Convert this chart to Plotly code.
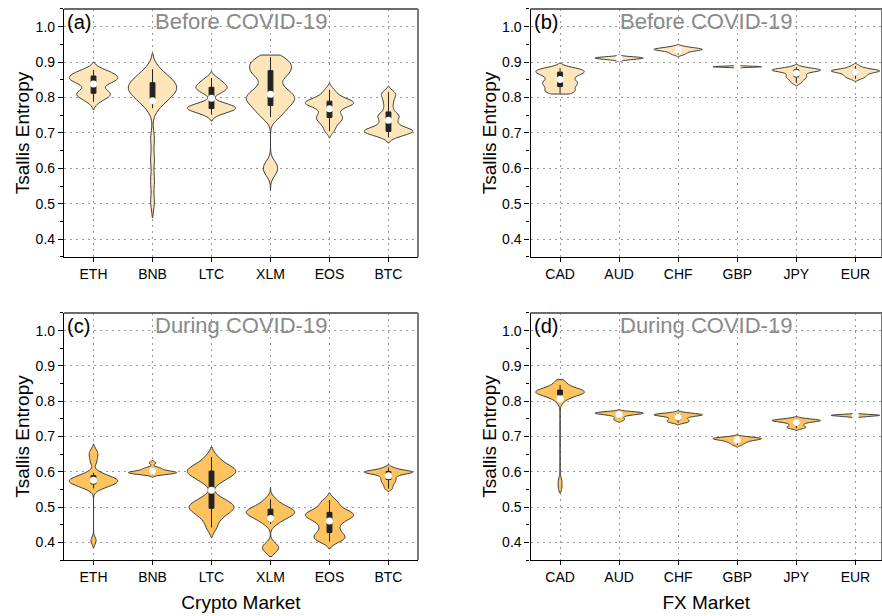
import numpy as np
import plotly.graph_objects as go

# ---------------- categories ----------------
crypto = ["ETH", "BNB", "LTC", "XLM", "EOS", "BTC"]
fx = ["CAD", "AUD", "CHF", "GBP", "JPY", "EUR"]

# ---------------- (a) crypto, before COVID-19 ----------------
eth_before = [0.788, 0.798, 0.803, 0.807, 0.810, 0.813, 0.817, 0.822, 0.838, 0.843, 0.846,
              0.849, 0.851, 0.854, 0.857, 0.860, 0.863, 0.866, 0.870, 0.874, 0.878]
bnb_before = [0.770, 0.782, 0.790, 0.797, 0.803, 0.808, 0.812, 0.816, 0.820, 0.823, 0.826,
              0.829, 0.832, 0.835, 0.838, 0.842, 0.846, 0.851, 0.857, 0.864, 0.872, 0.880,
              0.505, 0.565, 0.625, 0.685]
ltc_before = [0.752, 0.759, 0.763, 0.766, 0.768, 0.770, 0.772, 0.774, 0.777, 0.781, 0.787,
              0.812, 0.818, 0.823, 0.827, 0.831, 0.835, 0.840, 0.847, 0.855]
xlm_before = [0.858, 0.866, 0.874, 0.882, 0.890, 0.898, 0.906, 0.914, 0.835, 0.822, 0.812,
              0.806, 0.800, 0.794, 0.788, 0.780, 0.770, 0.758, 0.745, 0.590, 0.610]
eos_before = [0.705, 0.718, 0.728, 0.735, 0.740, 0.745, 0.750, 0.757, 0.766, 0.773, 0.777,
              0.780, 0.783, 0.785, 0.787, 0.789, 0.792, 0.796, 0.802, 0.810, 0.822]
btc_before = [0.688, 0.694, 0.698, 0.701, 0.703, 0.705, 0.707, 0.709, 0.712, 0.716, 0.722,
              0.730, 0.738, 0.745, 0.750, 0.756, 0.770, 0.785, 0.798, 0.808, 0.816]

# ---------------- (b) FX, before COVID-19 ----------------
cad_before = [0.812, 0.816, 0.821, 0.827, 0.833, 0.838, 0.842, 0.846, 0.852, 0.859, 0.864,
              0.868, 0.871, 0.874, 0.877, 0.880, 0.883]
aud_before = [0.906, 0.908, 0.909, 0.910, 0.911, 0.9115, 0.912, 0.9125, 0.913, 0.914, 0.915]
chf_before = [0.921, 0.925, 0.928, 0.931, 0.933, 0.934, 0.935, 0.936, 0.937, 0.938, 0.939,
              0.941, 0.944]
gbp_before = [0.8855, 0.886, 0.8865, 0.887, 0.887, 0.8875, 0.888, 0.8885]
jpy_before = [0.841, 0.848, 0.853, 0.857, 0.860, 0.864, 0.868, 0.872, 0.874, 0.876, 0.877,
              0.878, 0.879, 0.880, 0.882, 0.886]
eur_before = [0.853, 0.857, 0.860, 0.863, 0.866, 0.869, 0.871, 0.873, 0.874, 0.875, 0.876,
              0.877, 0.878, 0.880, 0.883, 0.889]

# ---------------- (c) crypto, during COVID-19 ----------------
eth_during = [0.553, 0.558, 0.562, 0.565, 0.568, 0.570, 0.572, 0.574, 0.576, 0.578, 0.580,
              0.583, 0.586, 0.590, 0.597, 0.628, 0.645, 0.658, 0.405]
bnb_during = [0.592, 0.594, 0.595, 0.596, 0.597, 0.598, 0.599, 0.600, 0.601, 0.603, 0.606,
              0.609, 0.612, 0.625]
ltc_during = [0.570, 0.582, 0.590, 0.596, 0.600, 0.604, 0.609, 0.615, 0.624, 0.642,
              0.442, 0.465, 0.478, 0.487, 0.494, 0.499, 0.503, 0.508, 0.515, 0.527]
xlm_during = [0.452, 0.462, 0.469, 0.474, 0.478, 0.481, 0.484, 0.487, 0.490, 0.493, 0.497,
              0.502, 0.510, 0.522, 0.376, 0.385, 0.393]
eos_during = [0.402, 0.408, 0.413, 0.418, 0.424, 0.432, 0.442, 0.452, 0.460, 0.466, 0.470,
              0.474, 0.477, 0.480, 0.483, 0.487, 0.492, 0.500, 0.510, 0.520]
btc_during = [0.552, 0.560, 0.567, 0.572, 0.577, 0.581, 0.586, 0.590, 0.593, 0.595, 0.597,
              0.598, 0.599, 0.600, 0.601, 0.602, 0.604, 0.607, 0.612]

# ---------------- (d) FX, during COVID-19 ----------------
cad_during = [0.797, 0.806, 0.812, 0.816, 0.819, 0.821, 0.823, 0.824, 0.825, 0.825, 0.826,
              0.826, 0.827, 0.827, 0.828, 0.829, 0.831, 0.833, 0.836, 0.840, 0.846, 0.852,
              0.858, 0.555, 0.575]
aud_during = [0.746, 0.751, 0.757, 0.761, 0.763, 0.764, 0.765, 0.766, 0.767, 0.768, 0.769, 0.770]
chf_during = [0.739, 0.742, 0.745, 0.748, 0.752, 0.756, 0.758, 0.760, 0.761, 0.762, 0.763,
              0.764, 0.767]
gbp_during = [0.676, 0.681, 0.684, 0.687, 0.689, 0.691, 0.692, 0.693, 0.694, 0.695, 0.696,
              0.697, 0.699]
jpy_during = [0.723, 0.726, 0.729, 0.734, 0.738, 0.741, 0.743, 0.744, 0.745, 0.746, 0.747,
              0.748, 0.751]
eur_during = [0.7555, 0.757, 0.758, 0.759, 0.7595, 0.760, 0.7605, 0.761, 0.762, 0.763]

# kernel bandwidths (smoothing) and manual spans per violin
bw_a = [0.011, 0.022, 0.009, 0.016, 0.009, 0.008]
bw_b = [0.007, 0.0025, 0.003, 0.0012, 0.004, 0.004]
bw_c = [0.010, 0.0035, 0.014, 0.011, 0.010, 0.004]
bw_d = [0.010, 0.0028, 0.003, 0.003, 0.003, 0.0015]
span_a = [None, None, None, [0.538, 0.92], None, None]
span_b = [[0.81, 0.897], None, None, None, None, None]
span_c = [None, None, None, [0.36, 0.555], None, None]
span_d = [[0.54, 0.861], None, None, None, None, None]

panels = [
    dict(cats=crypto, data=[eth_before, bnb_before, ltc_before, xlm_before, eos_before, btc_before],
         bw=bw_a, span=span_a, ax="", fill="#FFE6BA", label="(a)", title="Before COVID-19"),
    dict(cats=fx, data=[cad_before, aud_before, chf_before, gbp_before, jpy_before, eur_before],
         bw=bw_b, span=span_b, ax="2", fill="#FFE6BA", label="(b)", title="Before COVID-19"),
    dict(cats=crypto, data=[eth_during, bnb_during, ltc_during, xlm_during, eos_during, btc_during],
         bw=bw_c, span=span_c, ax="3", fill="#FCC35E", label="(c)", title="During COVID-19"),
    dict(cats=fx, data=[cad_during, aud_during, chf_during, gbp_during, jpy_during, eur_during],
         bw=bw_d, span=span_d, ax="4", fill="#FCC35E", label="(d)", title="During COVID-19"),
]

FONT = "Arial, Liberation Sans, sans-serif"
fig = go.Figure()

for p in panels:
    xa, ya = "x" + p["ax"], "y" + p["ax"]
    for cat, vals, bw, sp in zip(p["cats"], p["data"], p["bw"], p["span"]):
        kw = dict(spanmode="manual", span=sp) if sp else dict(spanmode="soft")
        fig.add_trace(go.Violin(
            x=[cat] * len(vals), y=vals, name=cat, xaxis=xa, yaxis=ya,
            bandwidth=bw, width=0.82, scalemode="width", points=False,
            fillcolor=p["fill"], opacity=1, line=dict(color="#3c3c3c", width=1),
            box=dict(visible=True, width=0.1, fillcolor="#222222",
                     line=dict(color="#222222", width=1)),
            meanline=dict(visible=False), showlegend=False, hoverinfo="skip", **kw))
    fig.add_trace(go.Scatter(
        x=p["cats"], y=[float(np.mean(v)) for v in p["data"]], xaxis=xa, yaxis=ya,
        mode="markers", marker=dict(color="white", size=7, line=dict(width=0)),
        showlegend=False, hoverinfo="skip"))

xdom_l, xdom_r = [0.0726, 0.4739], [0.6015, 1.0]
ydom_t, ydom_b = [0.5828, 0.9854], [0.0909, 0.4919]
doms = [(xdom_l, ydom_t), (xdom_r, ydom_t), (xdom_l, ydom_b), (xdom_r, ydom_b)]
xranges = [[-0.5, 5.5], [-0.5, 5.45], [-0.5, 5.5], [-0.5, 5.45]]
xtitles = ["", "", "Crypto Market", "FX Market"]

grid = dict(showgrid=True, gridcolor="#9a9a9a", gridwidth=1, griddash="2px,4px", zeroline=False)
layout = dict(
    width=882, height=616, margin=dict(l=0, r=0, t=0, b=0),
    paper_bgcolor="white", plot_bgcolor="white", violinmode="overlay",
    font=dict(family=FONT, color="black", size=14), showlegend=False,
)
annotations, shapes = [], []
for i, (p, (xd, yd)) in enumerate(zip(panels, doms)):
    sfx = "" if i == 0 else str(i + 1)
    xa_name, ya_name = "xaxis" + sfx, "yaxis" + sfx
    layout[xa_name] = dict(
        domain=xd, anchor="y" + sfx, type="category", categoryorder="array",
        categoryarray=p["cats"], range=xranges[i], showline=True, linecolor="black",
        linewidth=1.3, ticks="outside", ticklen=4, tickcolor="black",
        tickfont=dict(size=14, family=FONT),
        title=dict(text=xtitles[i], font=dict(size=19, family=FONT), standoff=11), **grid)
    layout[ya_name] = dict(
        domain=yd, anchor="x" + sfx, range=[0.35, 1.05], tickmode="linear", tick0=0.4,
        dtick=0.1, tickformat=".1f", showline=True, linecolor="black", linewidth=1.3,
        ticks="outside", ticklen=5, tickcolor="black", tickfont=dict(size=14, family=FONT),
        minor=dict(dtick=0.05, tick0=0.35, ticks="outside", ticklen=3, tickcolor="black",
                   showgrid=False),
        title=dict(text="Tsallis Entropy", font=dict(size=19, family=FONT), standoff=0), **grid)
    xref, yref = "x" + sfx + " domain", "y" + sfx + " domain"
    annotations.append(dict(text=p["label"], xref=xref, yref=yref, x=0.003, y=0.948,
                            xanchor="left", yanchor="middle", showarrow=False,
                            font=dict(size=20, family=FONT, color="black")))
    annotations.append(dict(text=p["title"], xref=xref, yref=yref, x=0.5, y=0.948,
                            xanchor="center", yanchor="middle", showarrow=False,
                            font=dict(size=22, family=FONT, color="#8a8a8a")))
    shapes.append(dict(type="line", xref=xref, yref=yref, x0=0, x1=1, y0=1, y1=1,
                       line=dict(color="#3a3a3a", width=1.3), layer="above"))
    shapes.append(dict(type="line", xref=xref, yref=yref, x0=1, x1=1, y0=0, y1=1,
                       line=dict(color="#7a7a7a", width=2), layer="above"))
layout["annotations"] = annotations
layout["shapes"] = shapes
fig.update_layout(**layout)

fig.write_html("out.html")
